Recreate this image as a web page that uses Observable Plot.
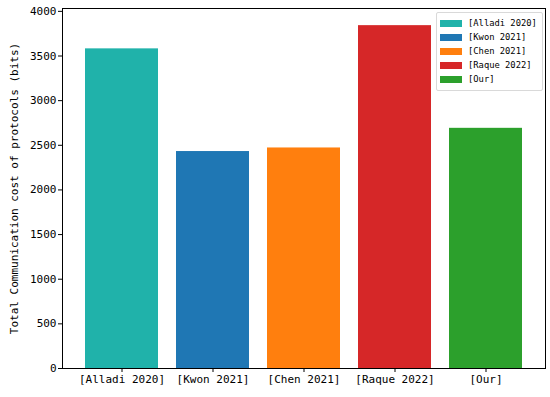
<!DOCTYPE html>
<html>
<head>
<meta charset="utf-8">
<script src="https://cdn.jsdelivr.net/npm/d3@7"></script>
<script src="https://cdn.jsdelivr.net/npm/@observablehq/plot@0.6"></script>
<style>
  html, body { margin: 0; padding: 0; background: #fff; }
  #wrap { position: relative; width: 550px; height: 397px; }
  #legend { position: absolute; left: 436px; top: 12px; width: 105px; border: 1px solid #d9d9d9; border-radius: 2px; background: rgba(255,255,255,0.8); padding: 3px 0 4px 0; font-family: "DejaVu Sans Mono", monospace; font-size: 8.8px; color: #000; }
  .row { display: flex; align-items: center; height: 14px; }
  .sw { width: 22px; height: 7px; margin-left: 3px; margin-right: 6px; }
</style>
</head>
<body>
<div id="wrap"><div id="chart"></div><div id="legend"></div></div>
<script>
const categories = ["[Alladi 2020]", "[Kwon 2021]", "[Chen 2021]", "[Raque 2022]", "[Our]"];
const values = [3580, 2430, 2470, 3840, 2690];
const colors = ["#20b2aa", "#1f77b4", "#ff7f0e", "#d62728", "#2ca02c"];
const yTicks = [0, 500, 1000, 1500, 2000, 2500, 3000, 3500, 4000];
const yLabel = "Total Communication cost of protocols (bits)";

const data = categories.map((c, i) => ({category: c, value: values[i]}));

const chart = Plot.plot({
  width: 550,
  height: 397,
  marginLeft: 62,
  marginRight: 5,
  marginTop: 8,
  marginBottom: 29,
  style: {fontFamily: "DejaVu Sans Mono, monospace", fontSize: "11px", color: "#000", background: "#fff"},
  x: {domain: categories, paddingInner: 0.2, paddingOuter: 0.24, label: null},
  y: {domain: [0, 3840 * 1.05], label: null},
  color: {domain: categories, range: colors},
  marks: [
    Plot.barY(data, {x: "category", y: "value", fill: "category"}),
    Plot.frame({stroke: "#000", strokeWidth: 1}),
    Plot.axisX({ticks: categories, tickSize: 4, tickPadding: 3, fontSize: 11, label: null}),
    Plot.axisY({ticks: yTicks, tickFormat: d => String(d), tickSize: 4, tickPadding: 2, fontSize: 11, label: yLabel, labelAnchor: "center", labelArrow: "none", labelOffset: 52})
  ]
});
document.getElementById("chart").appendChild(chart);

const legend = document.getElementById("legend");
categories.forEach((c, i) => {
  const row = document.createElement("div");
  row.className = "row";
  const sw = document.createElement("div");
  sw.className = "sw";
  sw.style.background = colors[i];
  const t = document.createElement("span");
  t.textContent = c;
  row.appendChild(sw);
  row.appendChild(t);
  legend.appendChild(row);
});
</script>
</body>
</html>
